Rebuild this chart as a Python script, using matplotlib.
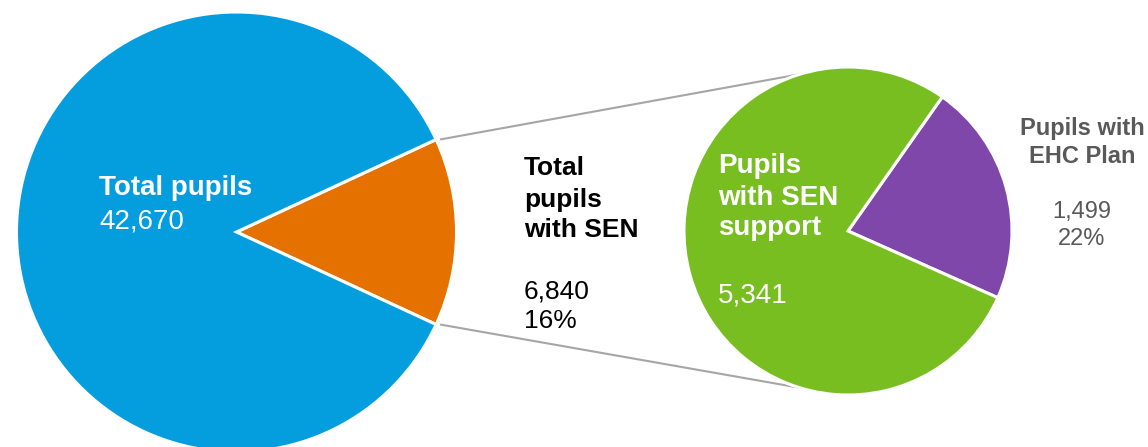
import numpy as np
import matplotlib.pyplot as plt

plt.rcParams['font.family'] = ['Liberation Sans', 'DejaVu Sans']

# counts
total_pupils = 42670
sen_total = 6840
sen_support = 5341
ehc_plan = 1499
sen_share = "16%"
ehc_share = "22%"

big_values = [sen_total, total_pupils]
small_values = [ehc_plan, sen_support]
big_colors = ['#e57200', '#049ddd']
small_colors = ['#7f47aa', '#79be21']

W, H = 1148, 447
fig = plt.figure(figsize=(W / 100, H / 100), dpi=100)
ax = fig.add_axes([0, 0, 1, 1])
ax.set_xlim(0, W)
ax.set_ylim(0, H)
ax.set_aspect('equal')
ax.axis('off')

big_c, big_r = (236.5, H - 232), 220
small_c, small_r = (848, H - 231), 164

wedge_kw = dict(edgecolor='white', linewidth=2.2)

# left pie: SEN slice centred on the right-hand side
half = 180 * sen_total / sum(big_values)
ax.pie(big_values, colors=big_colors, center=big_c, radius=big_r,
       startangle=-half, counterclock=True, wedgeprops=wedge_kw, frame=True)

# right pie: breakdown of the SEN slice
ax.pie(small_values, colors=small_colors, center=small_c, radius=small_r,
       startangle=-24, counterclock=True, wedgeprops=wedge_kw, frame=True)
ax.set_xlim(0, W)
ax.set_ylim(0, H)
ax.axis('off')

# connector lines from the SEN slice to the breakdown pie
for sign in (1, -1):
    a0 = np.radians(sign * half)
    a1 = np.radians(sign * 107)
    x0 = big_c[0] + big_r * np.cos(a0) + 4
    y0 = big_c[1] + big_r * np.sin(a0)
    x1 = small_c[0] + small_r * np.cos(a1)
    y1 = small_c[1] + small_r * np.sin(a1)
    ax.plot([x0, x1], [y0, y1], color='#a6a6a6', lw=1.5, zorder=0,
            solid_capstyle='butt')


def put(x, y_pix, s, size, color, bold=False, ha='left'):
    ax.text(x, H - y_pix, s, fontsize=size, color=color, ha=ha, va='baseline',
            fontweight='bold' if bold else 'normal')


put(99, 195, "Total pupils", 20, 'white', bold=True)
put(99, 228, f"{total_pupils:,}", 20, 'white')

for y, s in zip([175, 207, 237], ["Total", "pupils", "with SEN"]):
    put(524, y, s, 19, 'black', bold=True)
put(524, 298, f"{sen_total:,}", 19, 'black')
put(524, 328, sen_share, 19, 'black')

for y, s in zip([173, 205, 235], ["Pupils", "with SEN", "support"]):
    put(718, y, s, 20, 'white', bold=True)
put(718, 302, f"{sen_support:,}", 20, 'white')

grey = '#595959'
put(1082, 135, "Pupils with", 17, grey, bold=True, ha='center')
put(1082, 163, "EHC Plan", 17, grey, bold=True, ha='center')
put(1082, 218, f"{ehc_plan:,}", 17, grey, ha='center')
put(1082, 245, ehc_share, 17, grey, ha='center')

fig.savefig('out.png', dpi=100)
